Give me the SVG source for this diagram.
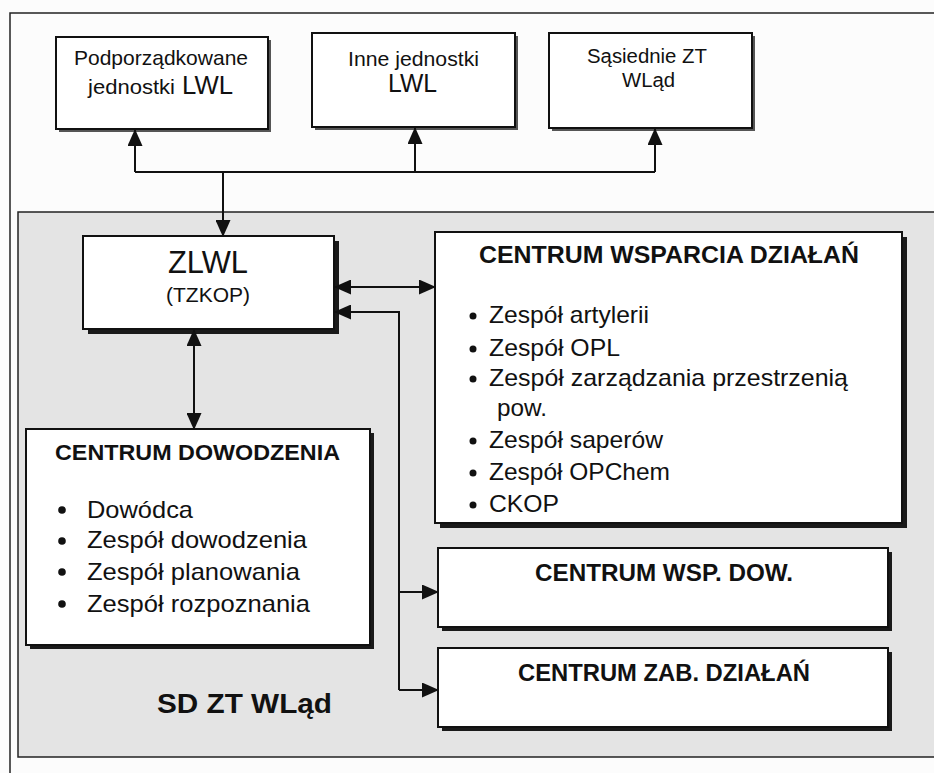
<svg xmlns="http://www.w3.org/2000/svg" width="934" height="773" viewBox="0 0 934 773">
<defs>
<style>
text{font-family:"Liberation Sans",Arial,sans-serif;fill:#111}
.b{font-weight:bold}
.box{fill:#fff;stroke:#111;stroke-width:2}
.sh{fill:#1a1a1a}
.shl{fill:#555}
.ln{fill:none;stroke:#111;stroke-width:2}
.dot{fill:#111}
</style>
<marker id="ah" markerUnits="userSpaceOnUse" markerWidth="17" markerHeight="15" refX="16" refY="7.5" orient="auto-start-reverse" viewBox="0 0 17 15">
<path d="M0,0 L17,7.5 L0,15 z" fill="#111"/>
</marker>
</defs>
<rect x="0" y="0" width="934" height="773" fill="#fcfcfc"/>
<rect id="frame" x="10" y="13" width="940" height="790" fill="#fcfcfc" stroke="#222" stroke-width="1.5"/>
<g id="sd-zt-wlad">
<rect x="18" y="212" width="930" height="545" fill="#e4e4e4" stroke="#222" stroke-width="1.5"/>
<text class="b" x="157" y="713" font-size="28" textLength="175" lengthAdjust="spacingAndGlyphs">SD ZT WLąd</text>
</g>

<g id="podporzadkowane">
<rect class="shl" x="59" y="40" width="212" height="92"/>
<rect class="box" x="56" y="37" width="212" height="92"/>
<text x="74" y="65" font-size="21" textLength="174" lengthAdjust="spacingAndGlyphs">Podporządkowane</text>
<text x="88" y="94" font-size="21" textLength="87" lengthAdjust="spacingAndGlyphs">jednostki</text>
<text x="182" y="94" font-size="25" textLength="51" lengthAdjust="spacingAndGlyphs">LWL</text>
</g>
<g id="inne">
<rect class="shl" x="315" y="36" width="203" height="94"/>
<rect class="box" x="312" y="33" width="203" height="94"/>
<text x="348" y="66" font-size="21" textLength="131" lengthAdjust="spacingAndGlyphs">Inne jednostki</text>
<text x="388" y="92" font-size="25" textLength="49" lengthAdjust="spacingAndGlyphs">LWL</text>
</g>
<g id="sasiednie">
<rect class="shl" x="552" y="36" width="203" height="95"/>
<rect class="box" x="549" y="33" width="203" height="95"/>
<text x="587" y="63" font-size="20" textLength="120" lengthAdjust="spacingAndGlyphs">Sąsiednie ZT</text>
<text x="622" y="87" font-size="20" textLength="53" lengthAdjust="spacingAndGlyphs">WLąd</text>
</g>

<g id="zlwl">
<rect class="sh" x="88" y="241" width="251" height="93"/>
<rect class="box" x="83" y="236" width="251" height="93"/>
<text x="168" y="273" font-size="31" textLength="80" lengthAdjust="spacingAndGlyphs">ZLWL</text>
<text x="166" y="302" font-size="21" textLength="84" lengthAdjust="spacingAndGlyphs">(TZKOP)</text>
</g>

<g id="centrum-wsparcia">
<rect class="sh" x="440" y="237" width="467" height="291"/>
<rect class="box" x="435" y="232" width="467" height="291"/>
<text class="b" x="479" y="263" font-size="24" textLength="380" lengthAdjust="spacingAndGlyphs">CENTRUM WSPARCIA DZIAŁAŃ</text>
<circle class="dot" cx="473" cy="316" r="3.5"/>
<text x="489" y="323" font-size="24" textLength="160" lengthAdjust="spacingAndGlyphs">Zespół artylerii</text>
<circle class="dot" cx="473" cy="349" r="3.5"/>
<text x="489" y="356" font-size="24" textLength="131" lengthAdjust="spacingAndGlyphs">Zespół OPL</text>
<circle class="dot" cx="473" cy="379" r="3.5"/>
<text x="489" y="386" font-size="24" textLength="359" lengthAdjust="spacingAndGlyphs">Zespół zarządzania przestrzenią</text>
<text x="497" y="416" font-size="24" textLength="50" lengthAdjust="spacingAndGlyphs">pow.</text>
<circle class="dot" cx="473" cy="441" r="3.5"/>
<text x="489" y="448" font-size="24" textLength="174" lengthAdjust="spacingAndGlyphs">Zespół saperów</text>
<circle class="dot" cx="473" cy="473" r="3.5"/>
<text x="489" y="480" font-size="24" textLength="181" lengthAdjust="spacingAndGlyphs">Zespół OPChem</text>
<circle class="dot" cx="473" cy="505" r="3.5"/>
<text x="489" y="512" font-size="24" textLength="70" lengthAdjust="spacingAndGlyphs">CKOP</text>
</g>

<g id="centrum-dowodzenia">
<rect class="sh" x="30" y="433" width="344" height="216"/>
<rect class="box" x="26" y="429" width="344" height="216"/>
<text class="b" x="55" y="460" font-size="22" textLength="285" lengthAdjust="spacingAndGlyphs">CENTRUM DOWODZENIA</text>
<circle class="dot" cx="62" cy="510" r="3.8"/>
<text x="87" y="518" font-size="24" textLength="106" lengthAdjust="spacingAndGlyphs">Dowódca</text>
<circle class="dot" cx="62" cy="541" r="3.8"/>
<text x="87" y="548" font-size="24" textLength="220" lengthAdjust="spacingAndGlyphs">Zespół dowodzenia</text>
<circle class="dot" cx="62" cy="572" r="3.8"/>
<text x="87" y="580" font-size="24" textLength="213" lengthAdjust="spacingAndGlyphs">Zespół planowania</text>
<circle class="dot" cx="62" cy="604" r="3.8"/>
<text x="87" y="612" font-size="24" textLength="223" lengthAdjust="spacingAndGlyphs">Zespół rozpoznania</text>
</g>

<g id="centrum-wsp-dow">
<rect class="sh" x="442" y="552" width="450" height="79"/>
<rect class="box" x="438" y="548" width="450" height="79"/>
<text class="b" x="535" y="581" font-size="23" textLength="258" lengthAdjust="spacingAndGlyphs">CENTRUM WSP. DOW.</text>
</g>
<g id="centrum-zab">
<rect class="sh" x="442" y="652" width="450" height="79"/>
<rect class="box" x="438" y="648" width="450" height="79"/>
<text class="b" x="518" y="681" font-size="23" textLength="292" lengthAdjust="spacingAndGlyphs">CENTRUM ZAB. DZIAŁAŃ</text>
</g>

<g id="connectors">
<path class="ln" d="M135,172 H655"/>
<path class="ln" d="M135,172 V130" marker-end="url(#ah)"/>
<path class="ln" d="M415,172 V128" marker-end="url(#ah)"/>
<path class="ln" d="M655,172 V129" marker-end="url(#ah)"/>
<path class="ln" d="M223,172 V236" marker-end="url(#ah)"/>
<path class="ln" d="M335,287 H435" marker-start="url(#ah)" marker-end="url(#ah)"/>
<path class="ln" d="M194,330 V429" marker-start="url(#ah)" marker-end="url(#ah)"/>
<path class="ln" d="M399,690 V312 H335" marker-end="url(#ah)"/>
<path class="ln" d="M399,592 H438" marker-end="url(#ah)"/>
<path class="ln" d="M399,690 H438" marker-end="url(#ah)"/>
</g>
</svg>
